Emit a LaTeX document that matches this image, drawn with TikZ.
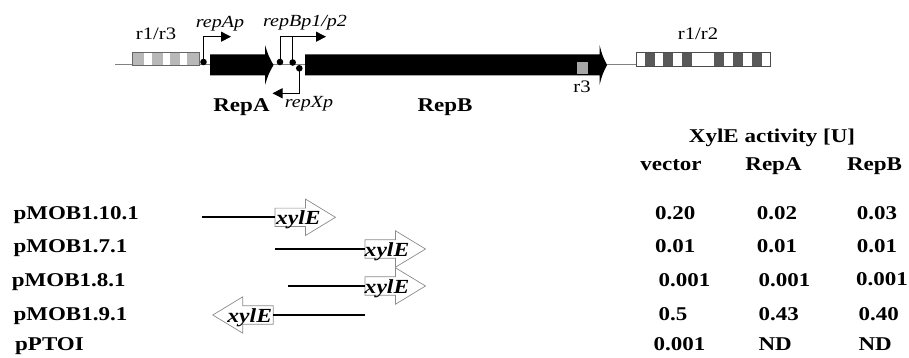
\documentclass[tikz,border=0pt]{standalone}
\usepackage{fontspec}
\setmainfont{Liberation Serif}[FakeStretch=1.18]
\usetikzlibrary{arrows.meta}

\tikzset{
  small/.style={font=\fontsize{17.5}{19}\selectfont, inner sep=0pt, anchor=base},
  prom/.style={font=\fontsize{17}{19}\selectfont\itshape, inner sep=0pt, anchor=base},
  big/.style={font=\fontsize{19.5}{21}\selectfont\bfseries, inner sep=0pt, anchor=base},
  rowlabel/.style={big, anchor=base west},
  value/.style={big, anchor=base west},
  reptext/.style={font=\fontsize{20}{22}\selectfont\bfseries\itshape, inner sep=0pt, anchor=base},
  backbone/.style={draw=black!50, line width=1pt},
  promline/.style={draw=black, line width=0.8pt},
  promarrow/.style={promline, -{Triangle[length=10pt,width=10pt]}},
  site/.style={fill=black},
  insert/.style={draw=black, line width=2.2pt},
  reporter/.style={draw=black!45, fill=white, line width=0.7pt, line join=miter},
  pics/reporter/.style={code={
    \path[reporter] (0,-9.2) -- (30.5,-9.2) -- (30.5,-18.2) -- (60.5,0)
      -- (30.5,18.2) -- (30.5,9.2) -- (0,9.2) -- cycle;}}
}

\begin{document}
\begin{tikzpicture}[x=1pt,y=-1pt]
\useasboundingbox (0,0) rectangle (909,358);

% ---------------- map of the replication region ----------------
\coordinate (bbL) at (115,65);
\coordinate (bbR) at (636,65);
\path[backbone] (bbL) -- (bbR);

% r1/r3 repeat block
\fill[black!28] (132.7,52.7) rectangle (199,65.7);
\foreach \a/\b in {144/151.7, 162.7/170, 180/186.7}
  \fill[white] (\a,52.7) rectangle (\b,65.7);
\draw[black!60, line width=0.7pt] (132.7,52.7) rectangle (199,65.7);
\node[small] (r13) at (156,40) {r1/r3};

% r1/r2 repeat block
\fill[white] (636,52.7) rectangle (770.7,66.5);
\foreach \a/\b in {645/655, 663.3/673.3, 681.7/691.7, 714/724, 732.7/742.7, 751.7/761.7}
  \fill[black!65] (\a,52.7) rectangle (\b,66.5);
\draw[black!70, line width=0.7pt] (636,52.7) rectangle (770.7,66.5);
\node[small] (r12) at (698,40) {r1/r2};

% RepA and RepB genes
\fill (210,54.5) -- (265,54.5) -- (265,45) .. controls (268.5,56) .. (273.5,65)
  .. controls (268.5,74) .. (265,85) -- (265,75.5) -- (210,75.5) -- cycle;
\fill (305,54.5) -- (599.5,54.5) -- (599.5,45) .. controls (602.5,56) .. (607,65)
  .. controls (602.5,74) .. (599.5,85) -- (599.5,75.5) -- (305,75.5) -- cycle;
\node[big] (repA) at (241.5,111.7) {RepA};
\node[big] (repB) at (445,111.7) {RepB};

% r3 site inside repB
\fill[black!35] (576.7,62.3) rectangle (588.3,74);
\node[small] (r3) at (582,93) {r3};

% promoters
\coordinate (pA) at (203.5,62);
\coordinate (pB1) at (280,62);
\coordinate (pB2) at (292.7,62.5);
\coordinate (pX) at (299.3,68.3);
\coordinate (pAend) at (231,36.7);
\coordinate (pBend) at (326,36.7);
\coordinate (pXend) at (272.5,93.3);

\path[promarrow] (pA) |- (pAend);
\path[promarrow] (pB1) |- (pBend);
\path[promline] (pB2) -- (pB2 |- pBend);
\path[promarrow] (pX) |- (pXend);
\foreach \p in {pA,pB1,pB2,pX}
  \fill[site] (\p) circle (3.3);

\node[prom] (lrepAp) at (220,28) {repAp};
\node[prom] (lrepBp) at (305,26.7) {repBp1/p2};
\node[prom] (lrepXp) at (309,108) {repXp};

% ---------------- table header ----------------
\node[big] (head) at (772,143) {XylE activity [U]};
\node[big] (hvec) at (671,171) {vector};
\node[big] (hrepA) at (773.5,171) {RepA};
\node[big] (hrepB) at (874.5,171) {RepB};

% ---------------- constructs ----------------
\node[rowlabel] (n1) at (13.3,219.5) {pMOB1.10.1};
\node[rowlabel] (n2) at (13.3,252.5) {pMOB1.7.1};
\node[rowlabel] (n3) at (11.7,286.5) {pMOB1.8.1};
\node[rowlabel] (n4) at (13.3,320) {pMOB1.9.1};
\node[rowlabel] (n5) at (15,350) {pPTOI};

% reporter fusions
\pic at (275,217.3) {reporter};
\pic at (365,249) {reporter};
\pic at (365,286) {reporter};
\pic[xscale=-1] at (273.3,315) {reporter};

\coordinate (s1) at (201.7,217.3); \coordinate (e1) at (275,217.3);
\coordinate (s2) at (275,249);     \coordinate (e2) at (365,249);
\coordinate (s3) at (288.3,286);   \coordinate (e3) at (365,286);
\coordinate (s4) at (365,315);     \coordinate (e4) at (273.3,315);
\foreach \i in {1,...,4}
  \path[insert] (s\i) -- (e\i);

\node[reptext] (x1) at (298.3,224.3) {xylE};
\node[reptext] (x2) at (387,256) {xylE};
\node[reptext] (x3) at (387,293) {xylE};
\node[reptext] (x4) at (249.7,322) {xylE};

% ---------------- activities ----------------
\node[value] (v11) at (655,219) {0.20};
\node[value] (v12) at (756.7,219) {0.02};
\node[value] (v13) at (856.7,219) {0.03};
\node[value] (v21) at (655,252.7) {0.01};
\node[value] (v22) at (756.7,252.7) {0.01};
\node[value] (v23) at (856.7,252.7) {0.01};
\node[value] (v31) at (658.3,286.5) {0.001};
\node[value] (v32) at (758.3,286.5) {0.001};
\node[value] (v33) at (856,285.5) {0.001};
\node[value] (v41) at (658.3,320) {0.5};
\node[value] (v42) at (758.3,320) {0.43};
\node[value] (v43) at (858.3,320) {0.40};
\node[value] (v51) at (653.3,350) {0.001};
\node[value] (v52) at (758.3,350) {ND};
\node[value] (v53) at (858.3,350) {ND};
\end{tikzpicture}
\end{document}
